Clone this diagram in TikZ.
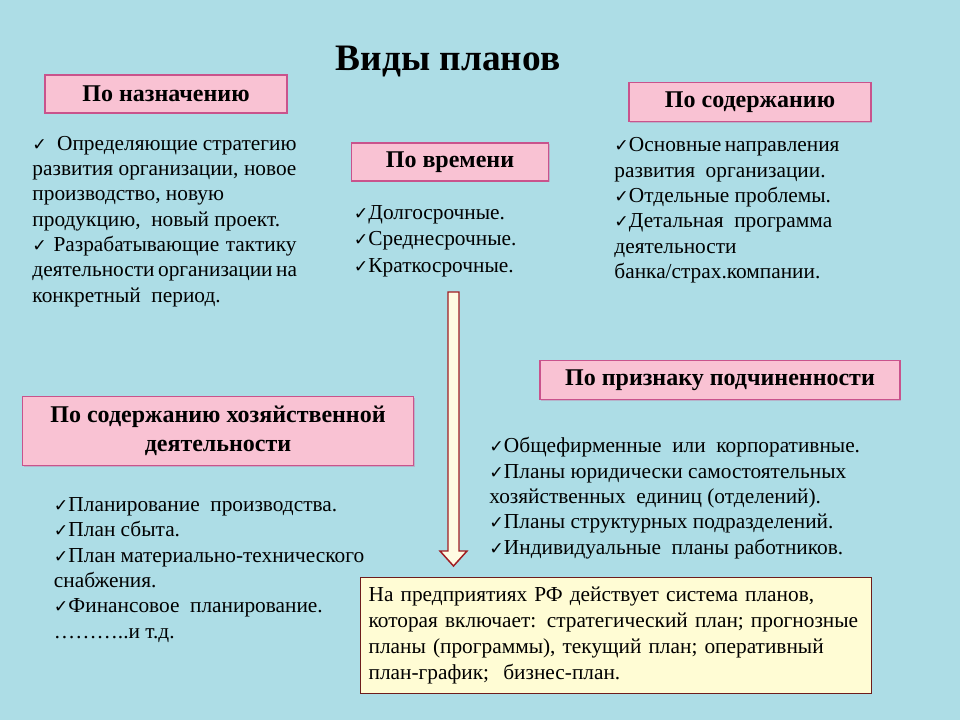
\documentclass[tikz,border=0pt]{standalone}
\usepackage{fontspec}
\setmainfont{Liberation Serif}
\newfontfamily\chkfont{DejaVu Sans}
\usetikzlibrary{positioning,shadows,calc}

\definecolor{waterbg}{HTML}{ADDDE6}
\definecolor{headfill}{HTML}{F9C2D3}
\definecolor{headdraw}{HTML}{C9538C}
\definecolor{notefill}{HTML}{FFFCD4}
\definecolor{notedraw}{HTML}{6E1C1C}
\definecolor{arrowdraw}{HTML}{A01D22}
\definecolor{arrowfill}{HTML}{FFFBE2}

\newcommand{\chk}{{\chkfont\fontsize{13}{13}\selectfont ✓}}
\newcommand{\jline}[2]{\makebox[#1][s]{#2}}

\tikzset{
  head/.style={draw=headdraw, line width=1.2pt, fill=headfill,
    font=\bfseries\fontsize{18}{22}\selectfont, align=center,
    drop shadow={shadow xshift=1pt, shadow yshift=-1pt, opacity=0.3, fill=headdraw}},
  txt/.style={inner sep=0pt, align=left, font=\fontsize{16}{19}\selectfont},
  note/.style={draw=notedraw, line width=1pt, fill=notefill, inner xsep=6pt,
    align=left, font=\fontsize{16}{19.5}\selectfont, anchor=north west},
  bigarrow/.style={draw=arrowdraw, line width=1.1pt, fill=arrowfill, line join=miter}
}

\begin{document}
\begin{tikzpicture}[x=0.75pt, y=-0.75pt]
\fill[waterbg] (0,0) rectangle (960,720);
\useasboundingbox (0,0) rectangle (960,720);

\node[font=\bfseries\fontsize{28}{32}\selectfont] (title) at (448,62) {Виды планов};

% headers
\node[head, minimum width=181.5pt, minimum height=28.5pt] (naz) at (166,94) {По назначению};
\node[head, minimum width=147.75pt, minimum height=28.5pt] (vrem) at (450,162) {По времени};
\node[head, minimum width=181.5pt, minimum height=29.25pt] (sod) at (750,102) {По содержанию};
\node[head, minimum width=270pt, minimum height=29.25pt] (podch) at (720,380) {По признаку подчиненности};
\node[head, minimum width=293.25pt, minimum height=51.75pt] (hoz) at (218,431)
  {По содержанию хозяйственной\\деятельности};

% lists
\node[txt, below right=16.5pt and -9pt of naz.south west] (naztxt) {%
  \jline{198pt}{\chk\ \ Определяющие стратегию}\\
  \jline{198pt}{развития организации, новое}\\
  производство, новую\\
  продукцию,\ \ новый проект.\\
  \jline{198pt}{\chk\ Разрабатывающие тактику}\\
  \jline{198pt}{деятельности организации на}\\
  конкретный\ \ период.};
\node[txt, below right=17.25pt and 2.25pt of vrem.south west,
  font=\fontsize{16}{20}\selectfont] (vremtxt) {%
  \chk Долгосрочные.\\
  \chk Среднесрочные.\\
  \chk Краткосрочные.};
\node[txt, below right=11.25pt and -10.5pt of sod.south west] (sodtxt) {%
  \jline{167pt}{\chk Основные направления}\\
  развития\ \ организации.\\
  \chk Отдельные проблемы.\\
  \chk Детальная\ \ программа\\
  деятельности\\
  банка/страх.компании.};
\node[txt, below right=27.75pt and -37.5pt of podch.south west] (podchtxt) {%
  \chk Общефирменные\ \ или\ \ корпоративные.\\
  \chk Планы юридически самостоятельных\\
  хозяйственных\ \ единиц (отделений).\\
  \chk Планы структурных подразделений.\\
  \chk Индивидуальные\ \ планы работников.};
\node[txt, below right=23.25pt and 24pt of hoz.south west] (hoztxt) {%
  \chk Планирование\ \ производства.\\
  \chk План сбыта.\\
  \chk План материально-технического\\
  снабжения.\\
  \chk Финансовое\ \ планирование.\\
  ………..и т.д.};

% note
\node[note, text width=371pt, minimum height=87pt] (rf) at (360,577) {%
  На предприятиях РФ действует система планов,\\
  которая включает: стратегический план; прогнозные\\
  планы (программы), текущий план; оперативный\\
  план-график;\ \ бизнес-план.};

% arrow
\coordinate (arrtop) at (453.5,292);
\coordinate (arrtip) at (453.5,566);
\draw[bigarrow] ($(arrtop)+(-5.5,0)$) -- ($(arrtop)+(5.5,0)$) -- ($(arrtip)+(5.5,-15)$)
  -- ($(arrtip)+(13.5,-15)$) -- (arrtip) -- ($(arrtip)+(-13.5,-15)$)
  -- ($(arrtip)+(-5.5,-15)$) -- cycle;
\end{tikzpicture}
\end{document}
